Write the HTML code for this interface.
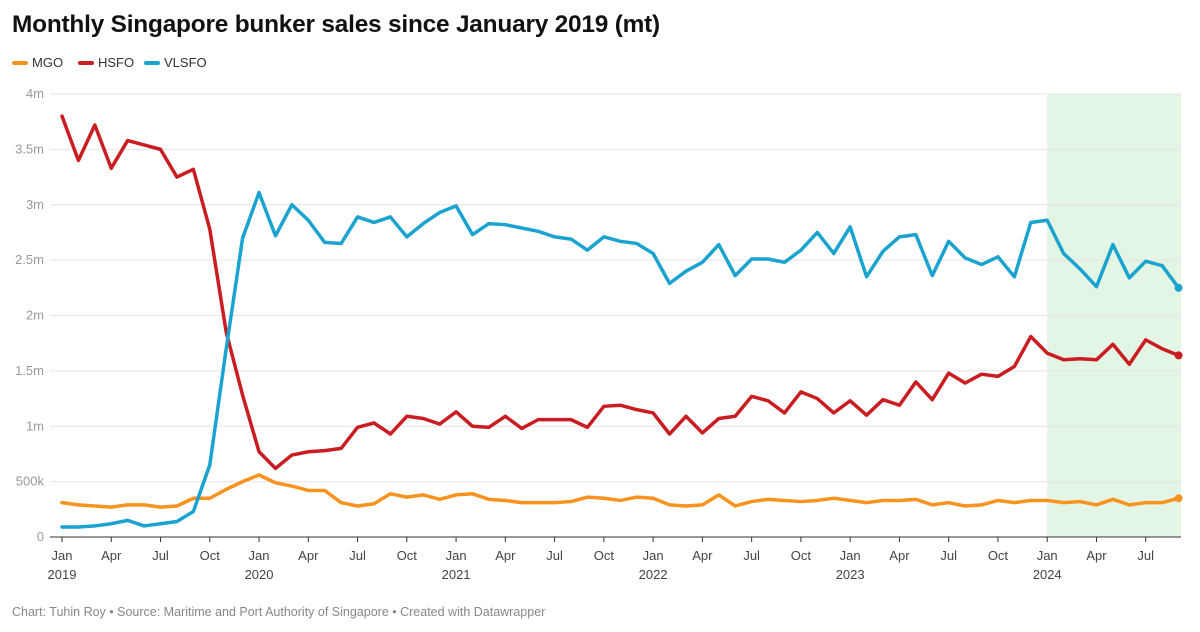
<!DOCTYPE html>
<html><head><meta charset="utf-8"><style>
body{margin:0;background:#fff;font-family:"Liberation Sans",Arial,sans-serif;}
#wrap{position:relative;width:1200px;height:632px;overflow:hidden;}
h1{position:absolute;left:12px;top:11px;margin:0;font-size:24.4px;font-weight:bold;color:#111;letter-spacing:-0.2px}
.leg{position:absolute;top:55px;font-size:13px;color:#333;display:flex;align-items:center}
.leg span.sw{display:inline-block;width:16px;height:4px;border-radius:2px;margin-right:4px}
#foot{position:absolute;left:12px;top:605px;font-size:12.5px;color:#888}
svg text{font-family:"Liberation Sans",Arial,sans-serif}
</style></head><body>
<div id="wrap">
<h1>Monthly Singapore bunker sales since January 2019 (mt)</h1>
<div class="leg" style="left:12px"><span class="sw" style="background:#f7931e"></span>MGO</div>
<div class="leg" style="left:78px"><span class="sw" style="background:#c91d22"></span>HSFO</div>
<div class="leg" style="left:144px"><span class="sw" style="background:#1ba3cf"></span>VLSFO</div>
<svg id="chart" width="1200" height="632" style="position:absolute;left:0;top:0"></svg>
<div id="foot">Chart: Tuhin Roy • Source: Maritime and Port Authority of Singapore • Created with Datawrapper</div>
</div>
<script>
const mgo=[.31,.29,.28,.27,.29,.29,.27,.28,.35,.35,.43,.50,
.56,.49,.46,.42,.42,.31,.28,.30,.39,.36,.38,.34,
.38,.39,.34,.33,.31,.31,.31,.32,.36,.35,.33,.36,
.35,.29,.28,.29,.38,.28,.32,.34,.33,.32,.33,.35,
.33,.31,.33,.33,.34,.29,.31,.28,.29,.33,.31,.33,
.33,.31,.32,.29,.34,.29,.31,.31,.35];
const hsfo=[3.80,3.40,3.72,3.33,3.58,3.54,3.50,3.25,3.32,2.78,1.85,1.28,
0.77,0.62,0.74,0.77,0.78,0.80,0.99,1.03,0.93,1.09,1.07,1.02,
1.13,1.00,0.99,1.09,0.98,1.06,1.06,1.06,0.99,1.18,1.19,1.15,
1.12,0.93,1.09,0.94,1.07,1.09,1.27,1.23,1.12,1.31,1.25,1.12,
1.23,1.10,1.24,1.19,1.40,1.24,1.48,1.39,1.47,1.45,1.54,1.81,
1.66,1.60,1.61,1.60,1.74,1.56,1.78,1.70,1.64];
const vlsfo=[.09,.09,.10,.12,.15,.10,.12,.14,.23,.65,1.7,2.7,
3.11,2.72,3.0,2.86,2.66,2.65,2.89,2.84,2.89,2.71,2.83,2.93,
2.99,2.73,2.83,2.82,2.79,2.76,2.71,2.69,2.59,2.71,2.67,2.65,
2.56,2.29,2.40,2.48,2.64,2.36,2.51,2.51,2.48,2.59,2.75,2.56,
2.80,2.35,2.58,2.71,2.73,2.36,2.67,2.52,2.46,2.53,2.35,2.84,
2.86,2.56,2.42,2.26,2.64,2.34,2.49,2.45,2.25];
const yTicks=[0,0.5,1,1.5,2,2.5,3,3.5,4];
const yLabels=["0","500k","1m","1.5m","2m","2.5m","3m","3.5m","4m"];
const monthNames=["Jan","Apr","Jul","Oct"];
const years=["2019","2020","2021","2022","2023","2024"];
const shadeStart=60;

const svg=document.getElementById('chart');const NS="http://www.w3.org/2000/svg";
const x=i=>62+i*16.42;
const y=v=>537-v*110.75;
function mk(t,a){const e=document.createElementNS(NS,t);for(const k in a)e.setAttribute(k,a[k]);svg.appendChild(e);return e;}
let sh=mk('rect',{x:x(shadeStart),y:y(4),width:1181-x(shadeStart),height:y(0)-y(4),fill:'#e3f5e4'});


yTicks.forEach((t,i)=>{
 if(t>0){let g=mk('line',{x1:50,x2:1181,y1:y(t),y2:y(t),stroke:'#e4e4e4','stroke-width':1});
 
 }
 let tx=mk('text',{x:44,y:y(t)+4,'text-anchor':'end','font-size':13,fill:'#999'});tx.textContent=yLabels[i];
 
 
});
let ax=mk('line',{x1:50,x2:1181,y1:y(0),y2:y(0),stroke:'#333','stroke-width':1});


for(let i=0;i<mgo.length;i+=3){
 let tk=mk('line',{x1:x(i),x2:x(i),y1:y(0),y2:y(0)+5,stroke:'#333'});
 
 
 let tx=mk('text',{x:x(i),y:560,'text-anchor':'middle','font-size':13,fill:'#444'});tx.textContent=monthNames[(i/3)%4];
 
 
 if(i%12==0){let yr=mk('text',{x:x(i),y:579,'text-anchor':'middle','font-size':13,fill:'#444'});yr.textContent=years[i/12];
 
 }
}
[[mgo,'#f7931e','line-mgo'],[hsfo,'#c91d22','line-hsfo'],[vlsfo,'#1ba3cf','line-vlsfo']].forEach(([d,c,n])=>{
 let p=mk('polyline',{points:d.map((v,i)=>x(i)+','+y(v)).join(' '),fill:'none',stroke:c,'stroke-width':3.5,'stroke-linejoin':'round','stroke-linecap':'round'});
 
 
 let dt=mk('circle',{cx:x(d.length-1),cy:y(d[d.length-1]),r:4,fill:c});
 
 
});
</script>
</body></html>
